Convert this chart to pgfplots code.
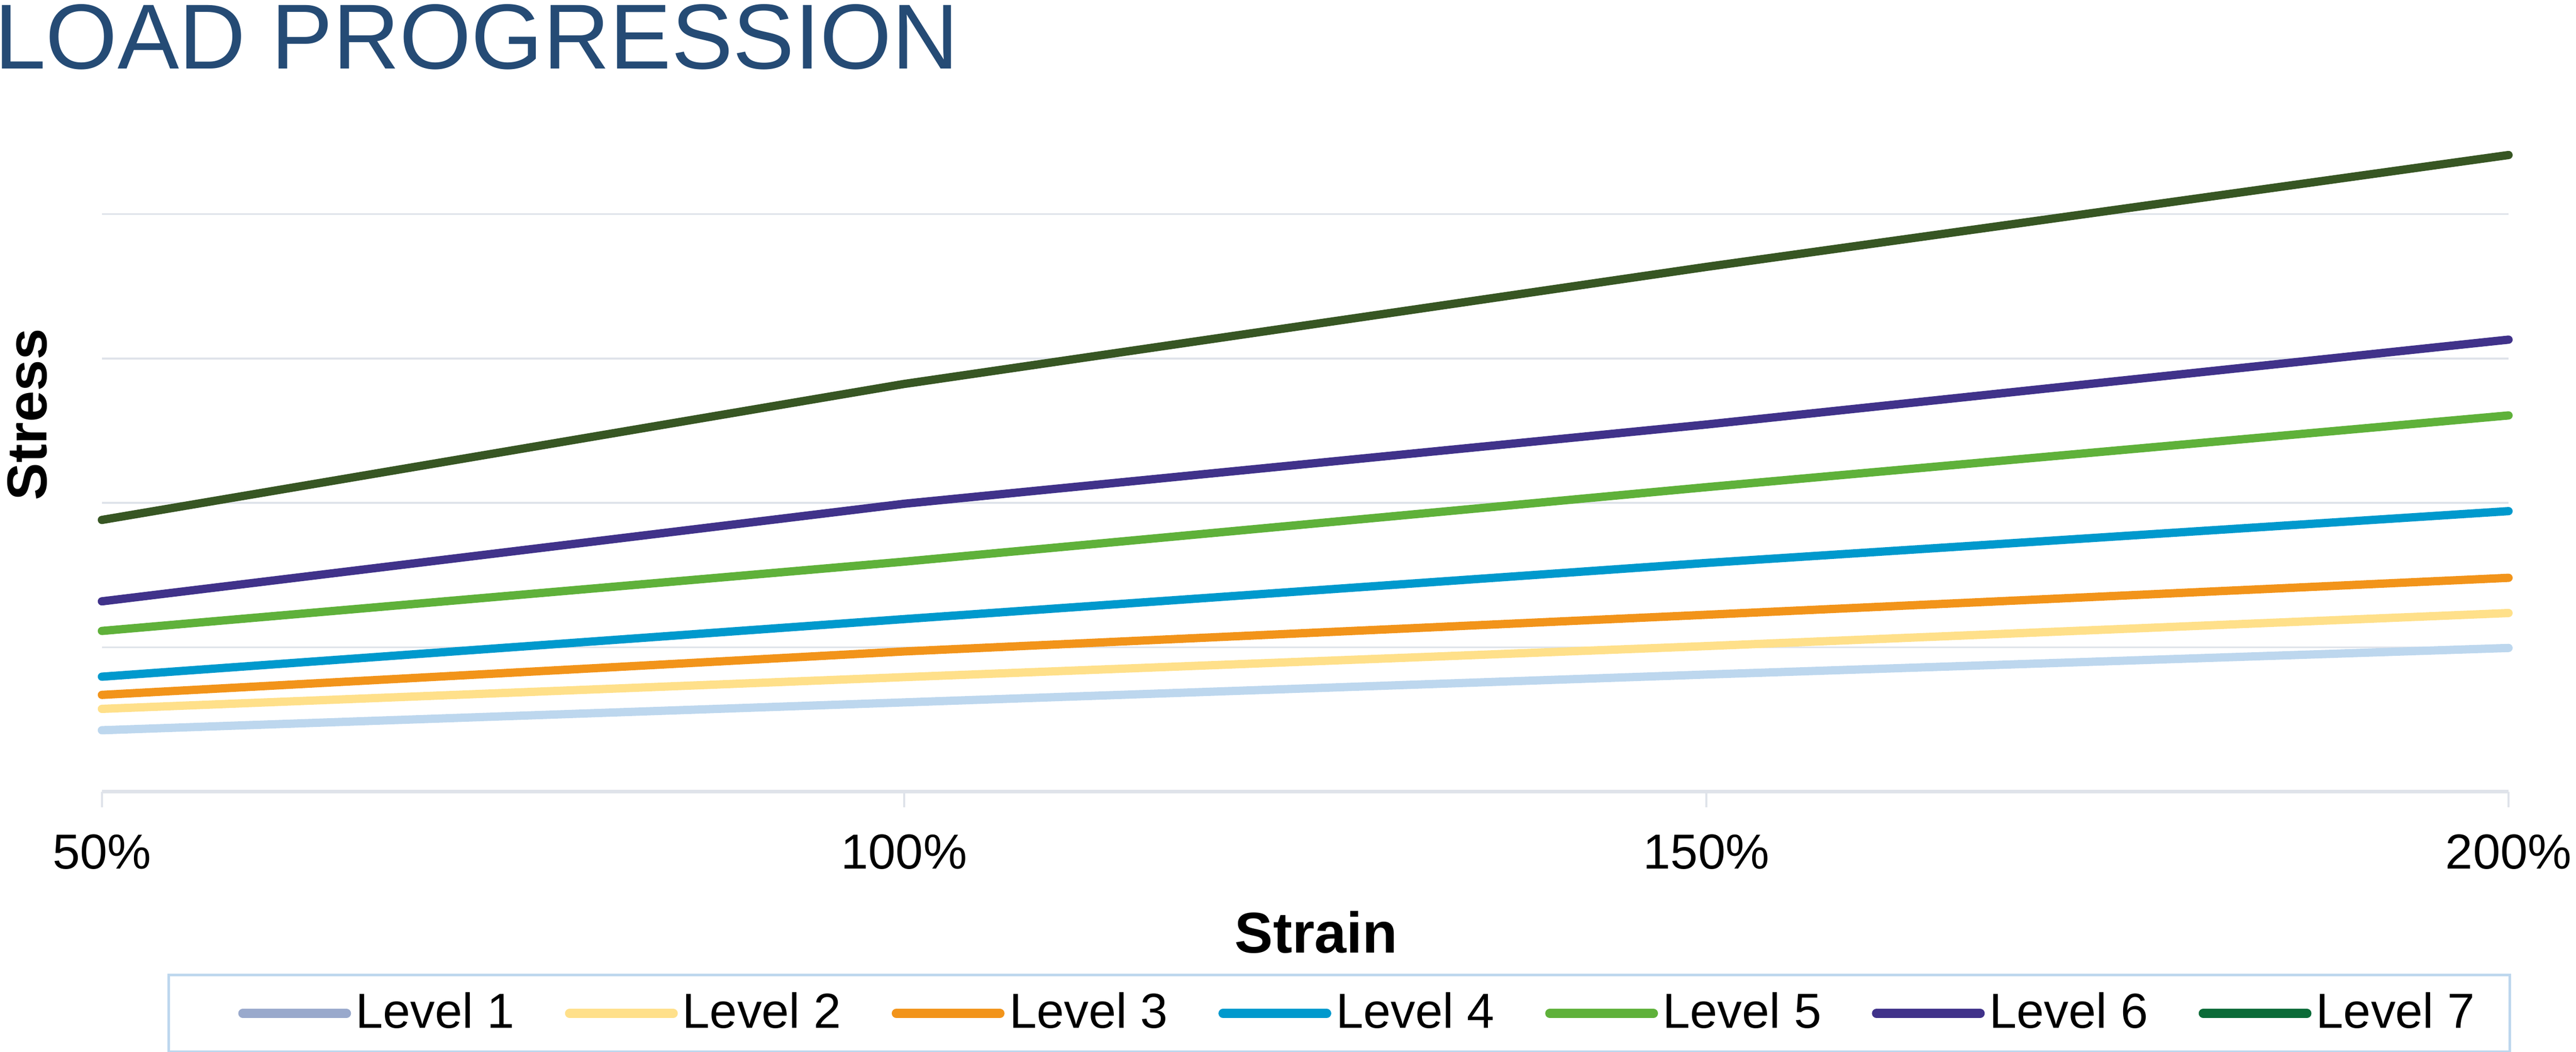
\documentclass[border=0pt]{standalone}
\usepackage{pgfplots}
\pgfplotsset{compat=1.18}
\usepackage{fontspec}
\setmainfont{Liberation Sans}

\definecolor{titleblue}{HTML}{254B75}
\definecolor{gridgray}{HTML}{DFE3EA}
\definecolor{legframe}{HTML}{BDD7EE}
% line colours
\definecolor{lvA}{HTML}{BDD7EE}
\definecolor{lvB}{HTML}{FFE08A}
\definecolor{lvC}{HTML}{F2941A}
\definecolor{lvD}{HTML}{0099CD}
\definecolor{lvE}{HTML}{5FB13A}
\definecolor{lvF}{HTML}{40328A}
\definecolor{lvG}{HTML}{375623}
% legend swatch colours (differ for level 1 and 7)
\definecolor{legA}{HTML}{99A9CC}
\definecolor{legG}{HTML}{0B6B38}

\begin{document}
\begin{tikzpicture}[x=1pt,y=1pt]
\useasboundingbox (0,0) rectangle (591.6,241.6);

\node[anchor=base west, inner sep=0pt, text=titleblue,
      font=\fontsize{21.2}{24}\selectfont] at (-1.5,225.8) {LOAD PROGRESSION};

\begin{axis}[
    at={(23.4pt,59.8pt)}, anchor=south west,
    scale only axis, width=552.7pt, height=152.5pt,
    xmin=50, xmax=200, ymin=0, ymax=460,
    clip=false,
    axis x line*=bottom, axis y line*=left,
    y axis line style={draw=none},
    x axis line style={gridgray, line width=0.8pt},
    xtick={50,100,150,200},
    xticklabels={50\%,100\%,150\%,200\%},
    xticklabel style={font=\fontsize{11.3}{13}\selectfont, inner sep=0pt, anchor=north, yshift=-6.1pt},
    tick align=outside, major tick length=3.6pt,
    xtick style={gridgray, line width=0.5pt},
    ytick={100,200,300,400}, yticklabels={},
    ytick style={draw=none},
    ymajorgrids, grid style={gridgray, line width=0.4pt},
    every axis plot/.append style={line width=1.9pt, line cap=round, line join=round},
    legend columns=7,
    legend image code/.code={\path[draw=none] (0pt,0pt) -- (9pt,0pt);
        \draw[#1, line width=2.1pt, line cap=round] (10.05pt,0pt) -- (33.85pt,0pt);},
    legend style={at={(0.5142,-0.334)}, anchor=center, draw=legframe, line width=0.6pt,
        inner xsep=6.95pt, inner ysep=3.95pt,
        font=\fontsize{11.3}{13}\selectfont,
        nodes={inner xsep=1.1pt, inner ysep=0pt},
        /tikz/every even column/.append style={column sep=1.5pt}},
  ]
  \addlegendimage{legA}\addlegendentry{Level 1}
  \addlegendimage{lvB}\addlegendentry{Level 2}
  \addlegendimage{lvC}\addlegendentry{Level 3}
  \addlegendimage{lvD}\addlegendentry{Level 4}
  \addlegendimage{lvE}\addlegendentry{Level 5}
  \addlegendimage{lvF}\addlegendentry{Level 6}
  \addlegendimage{legG}\addlegendentry{Level 7}

  \addplot[lvA, forget plot] coordinates {(50,42.5) (100,61.8) (150,81.1) (200,99.5)};
  \addplot[lvB, forget plot] coordinates {(50,57.3) (100,79.3) (150,100.8) (200,123.7)};
  \addplot[lvC, forget plot] coordinates {(50,67.0) (100,97.1) (150,122.5) (200,148.1)};
  \addplot[lvD, forget plot] coordinates {(50,79.6) (100,119.5) (150,158.4) (200,194.3)};
  \addplot[lvE, forget plot] coordinates {(50,111.3) (100,159.3) (150,210.9) (200,260.6)};
  \addplot[lvF, forget plot] coordinates {(50,131.8) (100,199.4) (150,254.3) (200,313.1)};
  \addplot[lvG, forget plot] coordinates {(50,188.2) (100,282.4) (150,363.5) (200,441.0)};
\end{axis}

\node[rotate=90, inner sep=0pt, font=\bfseries\fontsize{12.9}{15}\selectfont] at (6.3,146.4) {Stress};
\node[anchor=base, inner sep=0pt, font=\bfseries\fontsize{13.2}{15}\selectfont] at (302.3,22.8) {Strain};
\end{tikzpicture}
\end{document}
